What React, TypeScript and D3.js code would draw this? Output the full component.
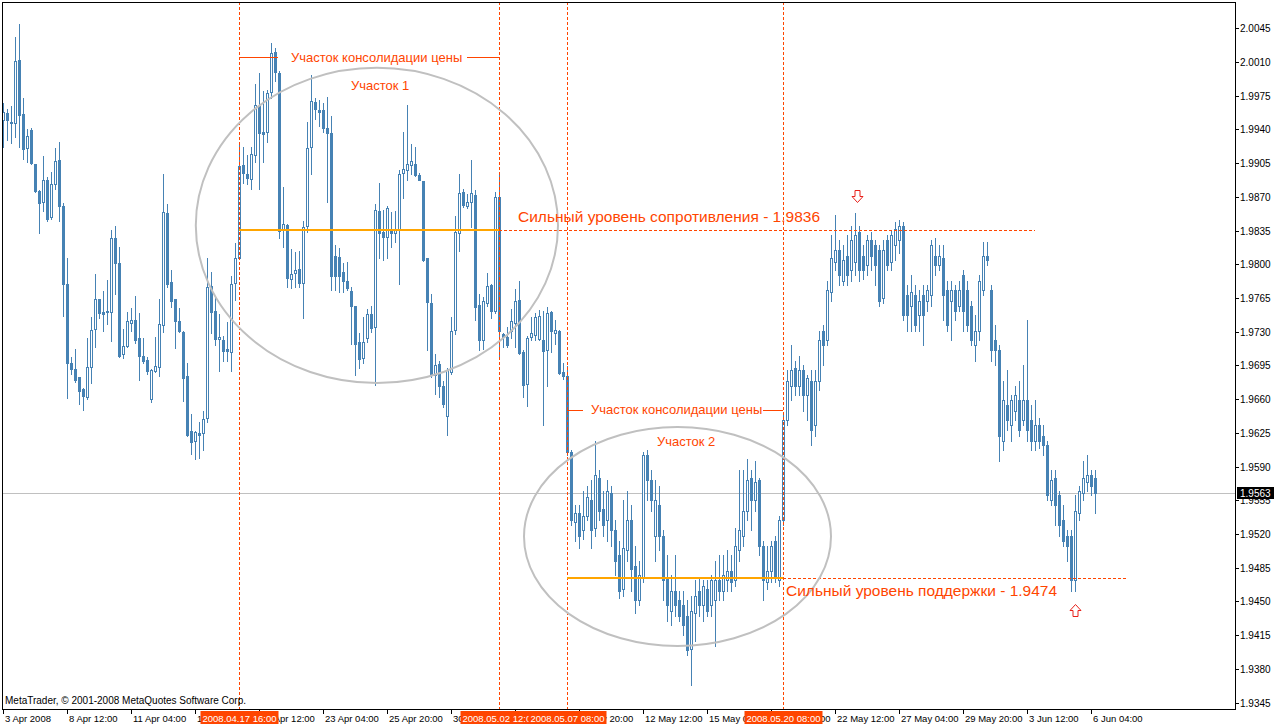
import React from "react";
import * as d3 from "d3";

// GBPUSD H4 candles: [open, high, low, close], price × 10 000
const candles: number[][] = [
  [19950,19967,19922,19958],[19957,19961,19929,19950],[19948,19964,19926,19947],[19947,20036,19932,20011],
  [20012,20049,19922,19955],[19956,19973,19909,19920],[19921,19940,19906,19933],[19939,19941,19904,19905],
  [19904,19904,19875,19876],[19876,19877,19832,19864],[19865,19912,19855,19888],[19887,19891,19845,19847],
  [19849,19896,19847,19883],[19883,19921,19878,19907],[19908,19927,19845,19860],[19860,19864,19746,19779],
  [19779,19806,19661,19697],[19698,19704,19686,19691],[19691,19712,19678,19680],[19683,19683,19655,19668],
  [19670,19672,19649,19663],[19662,19723,19660,19693],[19693,19745,19677,19732],[19733,19790,19714,19764],
  [19764,19764,19744,19749],[19750,19772,19731,19748],[19750,19784,19738,19751],[19750,19836,19720,19827],
  [19827,19840,19769,19801],[19801,19818,19704,19705],[19707,19733,19703,19715],[19715,19750,19714,19741],
  [19739,19755,19731,19742],[19742,19767,19718,19721],[19723,19749,19680,19705],[19705,19723,19697,19700],
  [19701,19704,19686,19689],[19660,19691,19657,19690],[19689,19724,19688,19694],[19693,19764,19684,19738],
  [19737,19894,19730,19854],[19853,19863,19776,19779],[19782,19794,19756,19762],[19764,19764,19713,19741],
  [19741,19755,19730,19731],[19730,19731,19658,19682],[19684,19698,19622,19623],[19627,19645,19603,19615],
  [19616,19627,19598,19626],[19625,19636,19599,19623],[19625,19648,19607,19639],[19640,19806,19636,19776],
  [19777,19792,19729,19750],[19752,19766,19716,19722],[19722,19748,19689,19725],[19721,19726,19700,19710],
  [19712,19740,19700,19710],[19709,19788,19689,19780],[19781,19822,19763,19807],[19807,19924,19806,19902],
  [19903,19922,19884,19895],[19894,19913,19883,19890],[19889,19922,19878,19915],[19913,19987,19906,19965],
  [19964,19999,19878,19936],[19937,19980,19906,19935],[19937,19981,19927,19978],[19979,20030,19973,20019],
  [20020,20025,19990,20000],[19999,20001,19827,19835],[19837,19880,19818,19842],[19841,19842,19776,19786],
  [19785,19816,19775,19790],[19791,19813,19776,19794],[19795,19814,19776,19781],[19781,19845,19744,19839],
  [19840,19948,19833,19921],[19922,19997,19894,19969],[19968,19973,19951,19961],[19960,19971,19944,19958],
  [19960,19967,19937,19941],[19942,19974,19865,19936],[19936,19954,19773,19788],[19809,19820,19773,19788],
  [19808,19817,19771,19788],[19792,19801,19771,19783],[19783,19802,19773,19775],[19772,19776,19717,19757],
  [19757,19757,19685,19717],[19719,19729,19692,19702],[19703,19745,19698,19719],[19723,19754,19719,19748],
  [19748,19757,19730,19734],[19735,19863,19675,19856],[19855,19884,19807,19832],[19833,19856,19804,19828],
  [19828,19860,19807,19858],[19837,19854,19818,19832],[19832,19855,19823,19836],[19836,19898,19780,19894],
  [19895,19937,19869,19899],[19898,19965,19887,19904],[19903,19925,19894,19907],[19904,19922,19892,19893],
  [19893,19895,19887,19888],[19886,19886,19803,19804],[19806,19807,19711,19761],[19760,19769,19683,19685],
  [19685,19707,19665,19695],[19696,19700,19662,19674],[19674,19679,19652,19655],[19642,19692,19623,19690],
  [19688,19745,19686,19731],[19732,19850,19728,19833],[19832,19894,19814,19874],[19875,19878,19859,19862],
  [19860,19873,19858,19865],[19865,19908,19839,19874],[19872,19877,19742,19756],[19758,19769,19711,19721],
  [19721,19766,19712,19762],[19760,19791,19757,19777],[19778,19780,19744,19751],[19751,19875,19749,19870],
  [19870,19896,19704,19731],[19728,19729,19714,19725],[19725,19735,19714,19716],[19731,19754,19723,19741],
  [19739,19774,19714,19762],[19763,19783,19707,19708],[19709,19711,19662,19675],[19676,19726,19653,19723],
  [19724,19745,19721,19729],[19727,19749,19721,19745],[19722,19753,19721,19746],[19721,19752,19633,19710],
  [19711,19756,19674,19749],[19750,19751,19709,19731],[19729,19742,19717,19732],[19731,19732,19686,19687],
  [19688,19698,19681,19684],
  [19684,19694,19602,19605],[19605,19607,19529,19534],[19532,19550,19513,19542],[19542,19550,19505,19518],
  [19524,19565,19515,19539],[19539,19570,19534,19558],[19555,19576,19505,19524],[19526,19617,19518,19581],
  [19578,19586,19534,19544],[19546,19565,19518,19529],[19534,19576,19513,19565],[19563,19570,19508,19524],
  [19524,19534,19477,19492],[19498,19513,19453,19461],[19463,19555,19456,19505],[19503,19565,19492,19534],
  [19534,19550,19461,19484],[19487,19508,19438,19451],[19451,19492,19446,19477],[19474,19605,19470,19602],
  [19602,19607,19555,19576],[19576,19586,19544,19555],[19518,19576,19492,19555],[19550,19570,19503,19518],
  [19518,19524,19451,19472],[19474,19498,19430,19446],[19440,19477,19425,19461],[19461,19498,19435,19446],
  [19451,19461,19430,19435],[19446,19461,19415,19425],[19435,19451,19394,19399],[19401,19456,19363,19440],
  [19438,19472,19409,19456],[19461,19474,19435,19446],[19446,19472,19430,19466],[19463,19472,19435,19440],
  [19446,19477,19435,19472],[19451,19492,19404,19472],[19472,19498,19451,19461],[19461,19498,19451,19477],
  [19472,19503,19461,19482],[19482,19498,19461,19470],[19472,19526,19466,19508],[19503,19586,19492,19524],
  [19518,19586,19508,19544],[19544,19598,19534,19576],[19578,19586,19524,19555],[19555,19596,19544,19574],
  [19576,19578,19498,19508],[19508,19513,19451,19472],[19470,19508,19463,19482],[19482,19513,19470,19508],
  [19513,19518,19470,19474],[19472,19539,19466,19534],[19534,19643,19529,19638],[19638,19690,19633,19679],
  [19674,19716,19659,19690],[19692,19700,19664,19674],[19674,19705,19664,19690],[19690,19695,19648,19664],
  [19664,19685,19638,19682],[19679,19690,19612,19628],[19633,19690,19622,19679],[19679,19731,19669,19721],
  [19731,19737,19695,19716],[19721,19783,19716,19773],[19771,19830,19762,19806],[19802,19851,19794,19815],
  [19815,19825,19778,19789],[19783,19820,19778,19804],[19809,19830,19778,19789],[19794,19840,19783,19825],
  [19802,19853,19789,19830],[19833,19840,19783,19794],[19809,19820,19785,19794],[19799,19830,19789,19825],
  [19825,19833,19794,19809],[19820,19825,19778,19799],[19815,19820,19757,19762],[19765,19825,19760,19815],
  [19825,19830,19794,19799],[19802,19835,19794,19830],[19820,19844,19804,19837],[19825,19846,19812,19840],
  [19840,19844,19742,19747],[19768,19778,19731,19747],[19757,19789,19731,19771],[19768,19778,19731,19737],
  [19747,19773,19731,19762],[19768,19778,19716,19747],[19762,19778,19752,19773],[19768,19825,19757,19820],
  [19809,19827,19789,19799],[19799,19820,19794,19809],[19806,19820,19742,19768],[19773,19783,19731,19737],
  [19762,19783,19721,19773],[19773,19778,19742,19752],[19757,19783,19752,19773],[19789,19794,19731,19752],
  [19773,19783,19731,19737],[19757,19762,19716,19721],[19716,19747,19700,19731],[19731,19789,19721,19783],
  [19773,19823,19768,19809],[19809,19823,19799,19804],[19773,19778,19700,19711],[19721,19737,19695,19711],
  [19711,19716,19596,19622],[19617,19679,19607,19659],[19654,19690,19628,19638],[19633,19664,19617,19659],
  [19648,19674,19638,19664],[19659,19679,19622,19628],[19638,19695,19633,19659],[19659,19742,19617,19628],
  [19638,19654,19607,19617],[19617,19659,19607,19633],[19633,19640,19609,19617],[19622,19633,19602,19612],
  [19612,19617,19555,19560],[19555,19586,19550,19576],[19578,19586,19529,19550],[19560,19565,19518,19529],
  [19534,19550,19508,19513],[19518,19524,19492,19508],[19518,19524,19461,19472],[19472,19560,19461,19544],
  [19542,19570,19534,19565],[19563,19596,19555,19578],[19574,19602,19565,19581],[19581,19586,19560,19570],
  [19578,19586,19542,19563],
];

const priceTicks = [
  "1.9345","1.9380","1.9415","1.9450","1.9485","1.9520","1.9555","1.9590","1.9625","1.9660","1.9695",
  "1.9730","1.9765","1.9800","1.9835","1.9870","1.9905","1.9940","1.9975","2.0010","2.0045",
];

// one label every 16 bars
const timeLabels = [
  "3 Apr 2008","8 Apr 12:00","11 Apr 04:00","15 Apr 20:00","18 Apr 12:00","23 Apr 04:00",
  "25 Apr 20:00","30 Apr 12:00","5 May 04:00","7 May 20:00","12 May 12:00","15 May 04:00",
  "19 May 20:00","22 May 12:00","27 May 04:00","29 May 20:00","3 Jun 12:00","6 Jun 04:00",
];

const markerBars = [59, 124, 141, 195];
const markerLabels = ["2008.04.17 16:00", "2008.05.02 12:00", "2008.05.07 08:00", "2008.05.20 08:00"];

const currentPrice = 1.9563;
const resistance = 1.9836;
const support = 1.9474;

// zones (ellipses): bar range and price range
const zoneBars = [[48.2, 138.75], [130.25, 207]];
const zonePrices = [[2.0004, 1.96767], [1.9631, 1.94037]];

const noteTexts = [
  "Участок консолидации цены", "Участок 1", "Сильный уровень сопротивления - 1.9836",
  "Участок консолидации цены", "Участок 2", "Сильный уровень поддержки - 1.9474",
];
const noteBars = [72, 87, 128.75, 147, 163.5, 195.75];
const notePrices = [2.00152, 1.99861, 1.98501, 1.96487, 1.96155, 1.94608];
const noteSizes = [13, 13, 15.5, 13, 13, 15.5];

const bracketBars = [[59, 68.75], [116, 124], [141, 145], [190, 195]];
const bracketPrices = [2.00152, 2.00152, 1.96487, 1.96487];

const arrowBars = [213.5, 268];
const arrowPrices = [1.98771, 1.94348];
const arrowDirs = ["down", "up"];

export default function App() {
  const W = 1274, H = 726;
  const L = 2, T = 2, R = 1235, B = 709;
  const x = d3.scaleLinear().domain([0, 273]).range([3, 1095]);
  const y = d3.scaleLinear().domain([1.9345, 2.0045]).range([702.5, 28.3]);
  const px = (i: number) => Math.round(x(i));
  const py = (p: number) => Math.round(y(p));
  const steel = "#4682B4";
  const ored = "#FF4500";
  const orange = "#FFA500";
  const axisFont = "'Liberation Sans', Arial, sans-serif";

  const candleEls = candles.map((v, i) => {
    const [o, h, l, c] = v.map((d) => d / 1e4);
    const cx = px(i);
    const yh = py(h), yl = py(l), yo = py(o), yc = py(c);
    const top = Math.min(yo, yc), bot = Math.max(yo, yc);
    const bull = c >= o;
    return (
      <g key={i}>
        <rect x={cx} y={yh} width={1} height={yl - yh + 1} fill={steel} />
        {bull && bot - top >= 2 ? (
          <rect x={cx - 0.5} y={top + 0.5} width={2} height={bot - top} fill="#fff" stroke={steel} strokeWidth={1} />
        ) : (
          <rect x={cx - 1} y={top} width={3} height={bot - top + 1} fill={steel} />
        )}
      </g>
    );
  });

  const arrowPath = (i: number) => {
    const cx = px(arrowBars[i]) + 0.5;
    const yy = py(arrowPrices[i]) + 0.5;
    if (arrowDirs[i] === "down") {
      return `M${cx - 2.5},${yy} L${cx + 2.5},${yy} L${cx + 2.5},${yy + 6} L${cx + 5.5},${yy + 6} L${cx},${yy + 12} L${cx - 5.5},${yy + 6} L${cx - 2.5},${yy + 6} Z`;
    }
    return `M${cx - 2.5},${yy} L${cx + 2.5},${yy} L${cx + 2.5},${yy - 6} L${cx + 5.5},${yy - 6} L${cx},${yy - 12} L${cx - 5.5},${yy - 6} L${cx - 2.5},${yy - 6} Z`;
  };

  return (
    <svg
      width={W}
      height={H}
      viewBox={`0 0 ${W} ${H}`}
      style={{ position: "absolute", left: 0, top: 0, display: "block", background: "#fff" }}
    >
      <defs>
        <clipPath id="plotClip">
          <rect x={L + 1} y={T + 1} width={R - L - 1} height={B - T - 1} />
        </clipPath>
      </defs>
      <rect x={0} y={0} width={W} height={H} fill="#fff" />

      <g clipPath="url(#plotClip)">
        {/* current price line */}
        <line x1={L} x2={R} y1={py(currentPrice) + 0.5} y2={py(currentPrice) + 0.5} stroke="#C0C0C0" strokeWidth={1} shapeRendering="crispEdges" />

        <g shapeRendering="crispEdges">{candleEls}</g>

        {/* vertical marker lines */}
        {markerBars.map((b, k) => (
          <line key={k} x1={px(b) + 0.5} x2={px(b) + 0.5} y1={T} y2={B} stroke={ored} strokeWidth={1} strokeDasharray="3,2" shapeRendering="crispEdges" />
        ))}

        {/* resistance / support levels */}
        <line x1={px(59)} x2={px(124)} y1={py(resistance)} y2={py(resistance)} stroke={orange} strokeWidth={2} shapeRendering="crispEdges" />
        <line x1={px(124)} x2={px(258)} y1={py(resistance) + 0.5} y2={py(resistance) + 0.5} stroke={ored} strokeWidth={1} strokeDasharray="3,2" shapeRendering="crispEdges" />
        <line x1={px(141)} x2={px(195)} y1={py(support)} y2={py(support)} stroke={orange} strokeWidth={2} shapeRendering="crispEdges" />
        <line x1={px(195)} x2={px(281.25)} y1={py(support) + 0.5} y2={py(support) + 0.5} stroke={ored} strokeWidth={1} strokeDasharray="3,2" shapeRendering="crispEdges" />

        {/* zones */}
        {zoneBars.map((zb, k) => {
          const x0 = x(zb[0]), x1 = x(zb[1]);
          const y0 = y(zonePrices[k][0]), y1 = y(zonePrices[k][1]);
          return (
            <ellipse key={k} cx={(x0 + x1) / 2} cy={(y0 + y1) / 2} rx={(x1 - x0) / 2} ry={Math.abs(y1 - y0) / 2} fill="none" stroke="#C0C0C0" strokeWidth={2} />
          );
        })}

        {/* brackets */}
        {bracketBars.map((bb, k) => (
          <line key={k} x1={px(bb[0])} x2={px(bb[1])} y1={py(bracketPrices[k]) + 0.5} y2={py(bracketPrices[k]) + 0.5} stroke={ored} strokeWidth={1} shapeRendering="crispEdges" />
        ))}

        {/* notes */}
        {noteTexts.map((t, k) => (
          <text key={k} x={x(noteBars[k])} y={y(notePrices[k])} dominantBaseline="central" fill={ored} fontSize={noteSizes[k]} fontFamily="'Liberation Sans', Arial, sans-serif">
            {t}
          </text>
        ))}

        {/* arrows */}
        {arrowBars.map((_, k) => (
          <path key={k} d={arrowPath(k)} fill="#fff" stroke="#E8201A" strokeWidth={1} />
        ))}

        <text x={5} y={704} fontSize={10} fontFamily={axisFont} fill="#000">
          MetaTrader, © 2001-2008 MetaQuotes Software Corp.
        </text>
      </g>

      {/* frame */}
      <g shapeRendering="crispEdges" stroke="#000" strokeWidth={1}>
        <line x1={L + 0.5} x2={L + 0.5} y1={T} y2={B + 1} />
        <line x1={L} x2={R + 1} y1={T + 0.5} y2={T + 0.5} />
        <line x1={R + 0.5} x2={R + 0.5} y1={T} y2={B + 1} />
        <line x1={L} x2={R + 1} y1={B + 0.5} y2={B + 0.5} />
      </g>

      {/* price axis */}
      {priceTicks.map((t) => {
        const yy = py(+t);
        return (
          <g key={t}>
            <line x1={R + 1} x2={R + 4} y1={yy + 0.5} y2={yy + 0.5} stroke="#000" shapeRendering="crispEdges" />
            <text x={R + 5} y={yy + 4} fontSize={10} fontFamily={axisFont} fill="#000">{t}</text>
          </g>
        );
      })}
      <rect x={R + 2} y={py(currentPrice) - 6} width={37} height={12} fill="#000" />
      <text x={R + 5} y={py(currentPrice) + 4} fontSize={10} fontFamily={axisFont} fill="#fff">
        {currentPrice.toFixed(4)}
      </text>

      {/* time axis */}
      {timeLabels.map((t, k) => {
        const xx = px(k * 16);
        return (
          <g key={t}>
            <line x1={xx + 0.5} x2={xx + 0.5} y1={B} y2={B + 5} stroke="#000" shapeRendering="crispEdges" />
            <text x={xx + 2} y={721.5} fontSize={9.5} fontFamily={axisFont} fill="#000">{t}</text>
          </g>
        );
      })}
      {markerBars.map((b, k) => {
        const xx = px(b) + 0.5;
        return (
          <g key={k}>
            <rect x={xx - 39} y={711} width={78} height={13} fill={ored} />
            <text x={xx} y={721.5} textAnchor="middle" fontSize={9.5} fontFamily={axisFont} fill="#fff">{markerLabels[k]}</text>
          </g>
        );
      })}
    </svg>
  );
}
